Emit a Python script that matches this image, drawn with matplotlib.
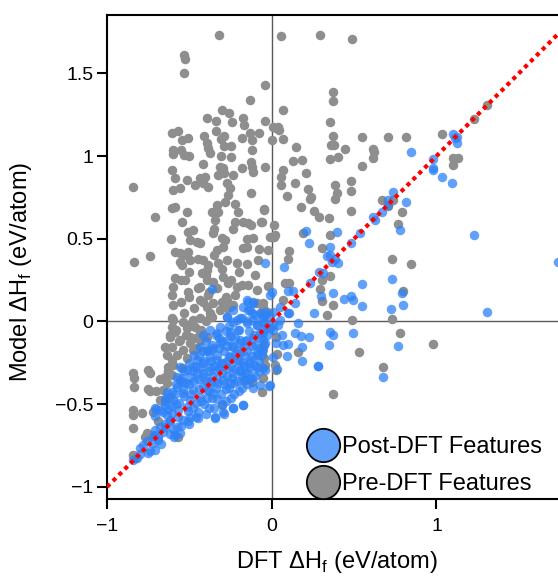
import numpy as np
import matplotlib
matplotlib.use("Agg")
import matplotlib.pyplot as plt
from matplotlib.lines import Line2D

plt.rcParams["font.family"] = ["Liberation Sans", "DejaVu Sans"]

# ---- data (DFT, model), in eV/atom ----
pre_upper = [
    (-0.32, 1.73), (-0.535, 1.61), (-0.525, 1.585), (-0.535, 1.50), (-0.04, 1.43),
    (-0.13, 1.34), (-0.30, 1.28), (-0.26, 1.26), (-0.39, 1.23), (-0.34, 1.21),
    (-0.24, 1.205), (-0.175, 1.23), (-0.17, 1.19), (-0.04, 1.21), (0.025, 1.17),
    (-0.605, 1.14), (-0.57, 1.15), (-0.545, 1.10), (-0.51, 1.11), (-0.41, 1.12),
    (-0.34, 1.15), (-0.31, 1.105), (-0.29, 1.12), (-0.39, 1.08), (-0.385, 1.05),
    (-0.375, 1.02), (-0.29, 1.06), (-0.25, 1.06), (-0.18, 1.11), (-0.13, 1.14),
    (-0.12, 1.10), (-0.12, 1.035), (-0.08, 1.14), (0.0, 1.10), (-0.60, 1.035),
    (-0.60, 1.015), (-0.55, 1.035), (-0.535, 1.005), (-0.505, 1.0), (-0.42, 0.95),
    (-0.31, 1.0), (-0.25, 0.995), (-0.315, 0.935), (-0.295, 0.925), (-0.125, 0.965),
    (-0.12, 0.935), (-0.115, 0.905), (-0.18, 0.93), (-0.235, 0.885), (-0.04, 0.935),
    (-0.605, 0.915), (-0.587, 0.865), (-0.516, 0.855), (-0.435, 0.865), (-0.405, 0.875),
    (-0.325, 0.885), (-0.84, 0.815),
]
pre_right = [
    (0.057, 1.725), (0.29, 1.733), (0.488, 1.707), (0.37, 1.387), (0.37, 1.33),
    (0.07, 1.28), (0.356, 1.207), (0.01, 1.173), (0.036, 1.177), (0.046, 1.157),
    (0.067, 1.105), (0.37, 1.123), (0.148, 1.052), (0.358, 1.066), (0.375, 1.066),
    (0.443, 1.044), (0.548, 1.117), (0.708, 1.117), (0.815, 1.117), (1.034, 1.131),
    (1.305, 1.306), (1.226, 1.224), (0.613, 1.042), (0.62, 1.026), (0.617, 0.986),
    (0.356, 0.982), (0.40, 0.992), (0.129, 0.968), (0.186, 0.974), (0.07, 0.915),
    (0.057, 0.875), (0.21, 0.90), (0.548, 0.94), (1.10, 0.986), (1.13, 0.986),
    (1.10, 0.946), (0.48, 0.85), (0.056, 0.825), (0.141, 0.835), (0.095, 0.758),
    (0.176, 0.69), (0.222, 0.799), (0.237, 0.754), (0.233, 0.738), (0.384, 0.825),
    (0.398, 0.778), (0.384, 0.738), (0.48, 0.79), (0.48, 0.669), (0.257, 0.666),
    (0.289, 0.633), (0.348, 0.627), (0.014, 0.581), (0.0, 0.512), (0.013, 0.512),
    (0.188, 0.533), (0.354, 0.523), (0.672, 0.734), (0.704, 0.698), (0.738, 0.734),
    (0.789, 0.66), (0.764, 0.589), (0.307, 0.446), (0.105, 0.426), (0.101, 0.376),
    (0.73, 0.376), (0.848, 0.347), (0.354, 0.275), (0.304, 0.251), (0.293, 0.198),
    (0.307, 0.124), (0.37, 0.098), (0.336, 0.039), (0.081, 0.231), (0.103, 0.234),
    (0.07, 0.13), (0.795, 0.186), (0.729, 0.017), (0.486, 0.009), (0.779, -0.068),
    (0.977, -0.138), (0.532, -0.184), (0.158, -0.182), (0.024, -0.095), (0.03, -0.196),
    (0.674, -0.277), (0.37, -0.438), (0.02, -0.263), (0.024, -0.293),
]
pre_mid = [
    (-0.71, 0.633), (-0.836, 0.36), (-0.74, 0.396), (-0.613, 0.498), (-0.597, 0.795),
    (-0.557, 0.805), (-0.466, 0.825), (-0.385, 0.815), (-0.415, 0.835), (-0.29, 0.895),
    (-0.273, 0.835), (-0.253, 0.805), (-0.263, 0.764), (-0.127, 0.778), (-0.607, 0.684),
    (-0.587, 0.694), (-0.512, 0.66), (-0.546, 0.60), (-0.364, 0.663), (-0.334, 0.704),
    (-0.324, 0.663), (-0.344, 0.613), (-0.284, 0.72), (-0.223, 0.708), (-0.206, 0.663),
    (-0.047, 0.678), (-0.223, 0.60), (-0.172, 0.60), (-0.142, 0.593), (-0.127, 0.583),
    (-0.067, 0.603), (0.02, 0.523), (-0.506, 0.543), (-0.476, 0.553), (-0.35, 0.557),
    (-0.354, 0.533), (-0.233, 0.557), (-0.496, 0.492), (-0.455, 0.482), (-0.435, 0.472),
    (-0.304, 0.503), (-0.284, 0.492), (-0.294, 0.452), (-0.334, 0.432), (-0.152, 0.497),
    (-0.112, 0.503), (-0.152, 0.452), (-0.172, 0.442), (-0.075, 0.438), (-0.01, 0.512),
    (-0.02, 0.432), (-0.587, 0.422), (-0.557, 0.412), (-0.526, 0.402), (-0.506, 0.422),
    (-0.557, 0.361), (-0.546, 0.341), (-0.496, 0.372), (-0.415, 0.372), (-0.385, 0.341),
    (-0.395, 0.311), (-0.324, 0.352), (-0.273, 0.372), (-0.212, 0.352), (-0.085, 0.372),
    (-0.587, 0.261), (-0.526, 0.251), (-0.597, 0.21), (-0.425, 0.291), (-0.395, 0.251),
    (-0.435, 0.21), (-0.354, 0.24), (-0.294, 0.271), (-0.263, 0.231), (-0.212, 0.21),
    (-0.146, 0.22), (-0.091, 0.19), (-0.607, 0.16), (-0.506, 0.18), (-0.435, 0.13),
    (-0.385, 0.16), (-0.354, 0.11), (-0.273, 0.13), (-0.253, 0.09), (-0.607, 0.019),
    (-0.375, 0.029), (-0.314, 0.069), (-0.055, 0.11), (-0.03, 0.06), (-0.045, 0.674),
    (-0.061, 0.603), (-0.022, 0.215), (-0.061, 0.059), (-0.051, 0.089), (-0.091, 0.11),
    (-0.45, 0.2), (-0.38, 0.18), (-0.33, 0.2), (-0.28, 0.15), (-0.22, 0.16),
    (-0.18, 0.22), (-0.25, 0.25), (-0.3, 0.32), (-0.2, 0.3), (-0.15, 0.35),
    (-0.1, 0.28), (-0.35, 0.4), (-0.45, 0.38), (-0.5, 0.3), (-0.55, 0.25), (-0.4, 0.28),
    (-0.53, 0.05), (-0.47, 0.08), (-0.42, 0.12), (-0.55, 0.12), (-0.6, 0.1), (-0.5, 0.15),
]
pre_low = [
    (-0.84, -0.313), (-0.836, -0.343), (-0.836, -0.398), (-0.749, -0.293), (-0.739, -0.313),
    (-0.753, -0.41), (-0.739, -0.418), (-0.84, -0.535), (-0.84, -0.565), (-0.79, -0.555),
    (-0.84, -0.645), (-0.759, -0.676), (-0.739, -0.686), (-0.77, -0.696), (-0.84, -0.807),
    (-0.83, -0.827), (-0.597, 0.009), (-0.537, -0.001), (-0.476, 0.009), (-0.435, 0.019),
    (-0.375, 0.05), (-0.395, 0.089), (-0.304, 0.12), (-0.273, 0.08), (-0.233, 0.1),
    (-0.607, -0.031), (-0.587, -0.062), (-0.516, -0.041), (-0.466, -0.031), (-0.435, -0.062),
    (-0.496, -0.092), (-0.617, -0.092), (-0.648, -0.152), (-0.607, -0.152), (-0.557, -0.112),
    (-0.638, -0.202), (-0.607, -0.233), (-0.628, -0.273), (-0.577, -0.202), (-0.537, -0.172),
    (-0.516, -0.222), (-0.546, -0.283), (-0.648, -0.333), (-0.607, -0.323), (-0.557, -0.353),
    (-0.638, -0.373), (-0.658, -0.414), (-0.678, -0.474), (-0.617, -0.454), (-0.435, -0.112),
    (-0.395, -0.092), (-0.455, -0.162), (-0.496, -0.132), (-0.047, -0.142), (-0.047, -0.222),
    (-0.041, -0.263), (-0.051, -0.343), (-0.061, -0.424), (-0.162, -0.353), (-0.121, -0.364),
    (-0.571, -0.70), (-0.302, -0.506), (-0.68, -0.35), (-0.7, -0.42), (-0.66, -0.48),
    (-0.72, -0.55), (-0.69, -0.6), (-0.63, -0.3), (-0.6, -0.26), (-0.56, -0.12),
    (-0.52, -0.08), (-0.5, -0.02), (-0.46, -0.1), (-0.48, -0.17), (-0.43, -0.05),
    (-0.4, 0.0), (-0.36, 0.03), (-0.62, -0.08), (-0.58, -0.05),
]
post_spread = [
    (0.846, 1.022), (0.977, 0.984), (0.979, 0.929), (1.032, 0.873), (1.103, 1.131),
    (1.123, 1.117), (1.127, 1.077), (1.113, 1.107), (-0.04, 0.352), (-0.364, 0.196),
    (-0.152, 0.13), (-0.112, 0.11), (-0.142, 0.069), (-0.121, 0.05), (0.0, 0.18),
    (-0.01, 0.16), (-0.051, 0.029), (-0.01, 0.029), (-0.273, 0.029), (-0.182, 0.019),
    (0.977, 0.915), (1.097, 0.839), (0.738, 0.784), (0.814, 0.72), (0.708, 0.734),
    (0.704, 0.704), (0.672, 0.663), (0.627, 0.613), (0.617, 0.63), (0.779, 0.553),
    (1.23, 0.52), (1.737, 0.361), (0.208, 0.549), (0.228, 0.472), (0.398, 0.539),
    (0.536, 0.533), (0.48, 0.476), (0.354, 0.448), (0.334, 0.396), (0.354, 0.402),
    (0.384, 0.376), (0.404, 0.355), (0.364, 0.361), (0.075, 0.327), (0.289, 0.301),
    (0.309, 0.291), (0.233, 0.234), (0.73, 0.255), (0.55, 0.225), (0.101, 0.184),
    (0.131, 0.184), (0.14, 0.11), (0.107, 0.053), (0.3, 0.154), (0.37, 0.17),
    (0.439, 0.134), (0.48, 0.154), (0.492, 0.13), (0.55, 0.094), (0.259, 0.053),
    (0.791, 0.17), (0.795, 0.098), (0.722, 0.074), (1.305, 0.059), (0.05, 0.086),
    (0.01, 0.059), (-0.041, 0.039), (0.16, -0.011), (0.356, -0.062), (0.37, -0.082),
    (0.492, -0.071), (0.226, -0.095), (0.176, -0.086), (0.141, -0.068), (0.061, -0.082),
    (0.07, -0.142), (0.101, -0.136), (0.026, -0.128), (0.348, -0.142), (0.767, -0.146),
    (0.186, -0.156), (0.095, -0.207), (0.186, -0.237), (0.283, -0.267), (0.283, -0.267),
    (0.034, -0.289), (0.674, -0.337), (-0.015, -0.388), (0.01, -0.216), (-0.041, -0.293),
    (-0.061, -0.172), (-0.051, -0.112), (0.05, 0.009), (0.04, -0.021), (0.01, -0.051),
    (-0.051, -0.051), (-0.03, -0.031), (0.101, 0.05),
]
post_cluster = [
    (-0.78, -0.746), (-0.8, -0.766), (-0.82, -0.827), (-0.84, -0.837), (-0.749, -0.796),
    (-0.709, -0.776), (-0.719, -0.736), (-0.689, -0.716), (-0.709, -0.656), (-0.689, -0.696),
    (-0.658, -0.666), (-0.648, -0.636), (-0.587, -0.686), (-0.557, -0.676), (-0.577, -0.636),
    (-0.617, -0.595), (-0.638, -0.565), (-0.607, -0.555), (-0.709, -0.525), (-0.648, -0.505),
    (-0.597, -0.474), (-0.567, -0.535), (-0.516, -0.515), (-0.496, -0.575), (-0.446, -0.585),
    (-0.537, -0.595), (-0.344, -0.575), (-0.294, -0.545), (-0.233, -0.525), (-0.172, -0.505),
    (-0.112, -0.404), (-0.071, -0.384), (-0.01, -0.384), (-0.121, -0.343), (-0.172, -0.353),
    (-0.253, -0.373), (-0.557, -0.273), (-0.516, -0.293), (-0.476, -0.273), (-0.455, -0.313),
    (-0.415, -0.333), (-0.375, -0.373), (-0.334, -0.373), (-0.294, -0.353), (-0.395, -0.414),
    (-0.354, -0.434), (-0.435, -0.454), (-0.496, -0.474), (-0.537, -0.434), (-0.577, -0.394),
    (-0.607, -0.424), (-0.435, -0.152), (-0.395, -0.172), (-0.354, -0.162), (-0.314, -0.132),
    (-0.273, -0.112), (-0.233, -0.152), (-0.192, -0.132), (-0.152, -0.112), (-0.112, -0.102),
    (-0.071, -0.071), (-0.03, -0.082), (-0.01, -0.041), (0.01, -0.021), (-0.041, -0.011),
    (-0.091, -0.021), (-0.375, -0.213), (-0.334, -0.233), (-0.294, -0.253), (-0.253, -0.213),
    (-0.212, -0.233), (-0.172, -0.253), (-0.132, -0.233), (-0.091, -0.192), (-0.051, -0.172),
    (-0.192, -0.192), (-0.273, -0.283), (-0.233, -0.313), (-0.192, -0.293), (-0.152, -0.303),
    (-0.091, -0.273), (-0.334, -0.293), (-0.375, -0.273), (-0.415, -0.253), (-0.455, -0.233),
    (-0.273, 0.029), (-0.233, -0.001), (-0.192, 0.019), (-0.152, -0.011), (-0.112, 0.009),
    (-0.071, 0.05), (-0.132, 0.069), (-0.172, 0.089), (-0.233, 0.069), (-0.142, 0.12),
    (-0.112, 0.12), (-0.334, -0.071), (-0.314, -0.031), (-0.375, -0.051), (-0.415, -0.082),
    (-0.253, -0.062), (-0.202, -0.051), (-0.638, -0.424), (-0.648, -0.474), (-0.678, -0.535),
    (-0.496, -0.333), (-0.537, -0.364), (-0.577, -0.333), (-0.476, -0.414), (-0.177, -0.502),
    (-0.237, -0.521), (-0.291, -0.56), (-0.345, -0.582), (-0.593, -0.70), (-0.707, -0.689),
    (-0.70, -0.528), (-0.707, -0.571),
    (-0.65, -0.62), (-0.66, -0.55), (-0.64, -0.46), (-0.6, -0.65), (-0.61, -0.51),
    (-0.59, -0.44), (-0.58, -0.38), (-0.55, -0.63), (-0.56, -0.49), (-0.54, -0.41),
    (-0.55, -0.34), (-0.53, -0.30), (-0.5, -0.62), (-0.51, -0.54), (-0.49, -0.44),
    (-0.5, -0.38), (-0.48, -0.3), (-0.5, -0.25), (-0.47, -0.2), (-0.45, -0.55),
    (-0.46, -0.49), (-0.44, -0.41), (-0.45, -0.35), (-0.43, -0.28), (-0.44, -0.21),
    (-0.4, -0.56), (-0.41, -0.5), (-0.39, -0.46), (-0.4, -0.36), (-0.38, -0.3),
    (-0.41, -0.24), (-0.39, -0.18), (-0.4, -0.12), (-0.35, -0.52), (-0.36, -0.46),
    (-0.34, -0.4), (-0.36, -0.33), (-0.35, -0.27), (-0.33, -0.2), (-0.36, -0.14),
    (-0.34, -0.08), (-0.3, -0.5), (-0.31, -0.44), (-0.29, -0.38), (-0.3, -0.31),
    (-0.31, -0.25), (-0.29, -0.18), (-0.3, -0.12), (-0.28, -0.06), (-0.25, -0.46),
    (-0.26, -0.4), (-0.24, -0.34), (-0.25, -0.27), (-0.26, -0.21), (-0.24, -0.15),
    (-0.25, -0.09), (-0.26, -0.03), (-0.2, -0.42), (-0.21, -0.36), (-0.19, -0.3),
    (-0.2, -0.24), (-0.21, -0.17), (-0.19, -0.11), (-0.2, -0.05), (-0.21, 0.01),
    (-0.15, -0.38), (-0.16, -0.31), (-0.14, -0.25), (-0.15, -0.18), (-0.16, -0.12),
    (-0.14, -0.06), (-0.15, 0.0), (-0.1, -0.33), (-0.11, -0.26), (-0.09, -0.2),
    (-0.1, -0.14), (-0.11, -0.08), (-0.09, -0.02), (-0.1, 0.04), (-0.05, -0.28),
    (-0.06, -0.2), (-0.04, -0.13), (-0.05, -0.07), (-0.06, 0.0), (-0.04, 0.06),
    (-0.62, -0.68), (-0.67, -0.74), (-0.74, -0.78), (-0.76, -0.72), (-0.8, -0.8),
]
post_core = [
    (-0.53, -0.45), (-0.52, -0.37), (-0.48, -0.52), (-0.47, -0.36), (-0.46, -0.27),
    (-0.43, -0.48), (-0.42, -0.39), (-0.42, -0.31), (-0.42, -0.18), (-0.38, -0.52),
    (-0.38, -0.42), (-0.37, -0.36), (-0.37, -0.24), (-0.37, -0.17), (-0.33, -0.47),
    (-0.33, -0.35), (-0.32, -0.28), (-0.32, -0.16), (-0.32, -0.1), (-0.28, -0.48),
    (-0.28, -0.41), (-0.27, -0.33), (-0.27, -0.24), (-0.27, -0.15), (-0.23, -0.44),
    (-0.23, -0.37), (-0.22, -0.29), (-0.22, -0.2), (-0.22, -0.1), (-0.18, -0.4),
    (-0.18, -0.33), (-0.17, -0.27), (-0.17, -0.2), (-0.17, -0.15), (-0.13, -0.35),
    (-0.13, -0.28), (-0.12, -0.21), (-0.12, -0.15), (-0.08, -0.3), (-0.08, -0.24),
    (-0.07, -0.16), (-0.07, -0.1), (-0.57, -0.58), (-0.58, -0.5), (-0.62, -0.6),
    (-0.63, -0.53), (-0.68, -0.64), (-0.72, -0.69), (-0.51, -0.6), (-0.46, -0.58),
]

labels = ["Post-DFT Features", "Pre-DFT Features"]
x_ticks = [-1, 0, 1]
x_ticklabels = ["\u22121", "0", "1"]
y_ticks = [-1, -0.5, 0, 0.5, 1, 1.5]
y_ticklabels = ["\u22121", "\u22120.5", "0", "0.5", "1", "1.5"]

C_PRE = "#8e8e8e"
C_POST = (0.18, 0.51, 0.97, 0.75)

pre = np.array(pre_upper + pre_right + pre_mid + pre_low)
post = np.array(post_spread + post_cluster + post_core)

fig = plt.figure(figsize=(5.58, 5.76), dpi=100)
ax = fig.add_axes([0.1918, 0.1337, 0.8082, 0.840])

ax.axhline(0, color="#5a5a5a", linewidth=1.0, zorder=1)
ax.axvline(0, color="#5a5a5a", linewidth=1.0, zorder=1)
ax.scatter(pre[:, 0], pre[:, 1], s=47, color=C_PRE, linewidths=0, zorder=2)
ax.scatter(post[:, 0], post[:, 1], s=47, color=C_POST, linewidths=0, zorder=3)
ax.axline((0, 0), slope=1, color="red", linewidth=3, linestyle=(0, (1, 1)), zorder=4)

ax.set_xlim(-1, 1.738)
ax.set_ylim(-1.073, 1.852)
ax.set_xticks(x_ticks)
ax.set_xticklabels(x_ticklabels)
ax.set_yticks(y_ticks)
ax.set_yticklabels(y_ticklabels)
ax.tick_params(direction="out", length=7, width=1.5, labelsize=14, pad=3)
ax.tick_params(axis="x", pad=7)
for side in ["left", "bottom", "top"]:
    ax.spines[side].set_linewidth(1.5)
ax.spines["right"].set_visible(False)

ax.set_xlabel("DFT \u0394H$_\\mathregular{f}$ (eV/atom)", fontsize=17)
ax.set_ylabel("Model \u0394H$_\\mathregular{f}$ (eV/atom)", fontsize=17)
ax.xaxis.set_label_coords(0.51, -0.104)
ax.yaxis.set_label_coords(-0.162, 0.47)

handles = [
    Line2D([], [], marker="o", linestyle="none", markersize=24,
           markerfacecolor=C_POST, markeredgecolor="black", markeredgewidth=1.3),
    Line2D([], [], marker="o", linestyle="none", markersize=24,
           markerfacecolor=C_PRE, markeredgecolor="black", markeredgewidth=1.3),
]
ax.legend(handles, labels, loc="lower right", bbox_to_anchor=(0.985, -0.012),
          frameon=False, fontsize=17, handletextpad=0.1, labelspacing=0.65,
          borderaxespad=0.0, handlelength=1.4)

fig.savefig("out.png", dpi=100)
